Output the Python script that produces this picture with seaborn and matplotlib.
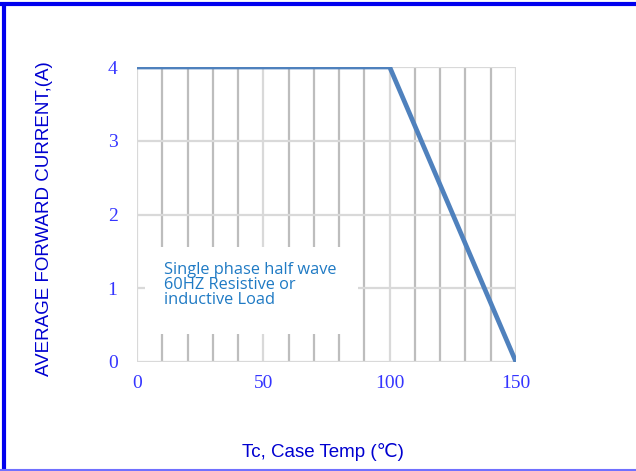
import matplotlib
matplotlib.use("Agg")
import matplotlib.pyplot as plt
import seaborn as sns
import pandas as pd
from matplotlib.lines import Line2D
from matplotlib.patches import Rectangle

# derating curve
case_temp = [0, 100, 150]
fwd_current = [4, 4, 0]

x_ticks = [0, 50, 100, 150]
y_ticks = [0, 1, 2, 3, 4]
grid_x = list(range(0, 151, 10))

note = "Single phase half wave\n60HZ Resistive or\ninductive Load"

sns.set_style("white")

df = pd.DataFrame({"temp": case_temp, "current": fwd_current})

fig = plt.figure(figsize=(6.36, 4.71), dpi=100)
ax = fig.add_axes([137 / 636, 1 - 362 / 471, 379 / 636, 295 / 471])

# grid
for gx in grid_x:
    c = "#d9d9d9" if gx in x_ticks else "#bdbdbd"
    ax.axvline(gx, color=c, lw=1.6, zorder=1)
for gy in y_ticks:
    ax.axhline(gy, color="#d9d9d9", lw=1.6, zorder=1)

# white box behind the note
ax.add_patch(Rectangle((3.2, 0.38), 84.3, 1.18, facecolor="white",
                       edgecolor="none", zorder=2))
ax.text(10.5, 1.36, note, color="#1f7ac4", fontsize=11.8, family=["Open Sans", "DejaVu Sans"],
        va="top", ha="left", linespacing=0.95, zorder=3)

sns.lineplot(data=df, x="temp", y="current", ax=ax, color="#4f81bd", lw=3.4, zorder=4)

ax.set_xlim(0, 150)
ax.set_ylim(0, 4)
ax.set_xticks(x_ticks)
ax.set_yticks(y_ticks)
for s in ax.spines.values():
    s.set_visible(False)
ax.tick_params(length=0, labelsize=14, labelcolor="#3535ff")
ax.tick_params(axis="x", pad=9)
ax.tick_params(axis="y", pad=14)
for lab in ax.get_xticklabels() + ax.get_yticklabels():
    lab.set_family("Liberation Serif")

ax.set_xlabel("Tc, Case Temp (℃)", color="#0000d0", fontsize=13.5,
              family=["Liberation Sans", "DejaVu Sans"], va="center")
ax.set_ylabel("AVERAGE FORWARD CURRENT,(A)", color="#0000d0", fontsize=13.5,
              family=["Liberation Sans", "DejaVu Sans"], va="center")
ax.xaxis.set_label_coords(0.491, -0.305)
ax.yaxis.set_label_coords(-0.243, 0.485)

# blue frame around the figure
fig.add_artist(Line2D([4 / 636, 4 / 636], [0, 1 - 4 / 471], color="#0000ee", lw=3,
                      transform=fig.transFigure))
fig.add_artist(Line2D([0, 1], [1 - 4 / 471, 1 - 4 / 471], color="#0000ee", lw=3,
                      transform=fig.transFigure))
fig.add_artist(Line2D([0, 1], [1.5 / 471, 1.5 / 471], color="#7070ff", lw=1.5,
                      transform=fig.transFigure))

fig.savefig("out.png", dpi=100)
